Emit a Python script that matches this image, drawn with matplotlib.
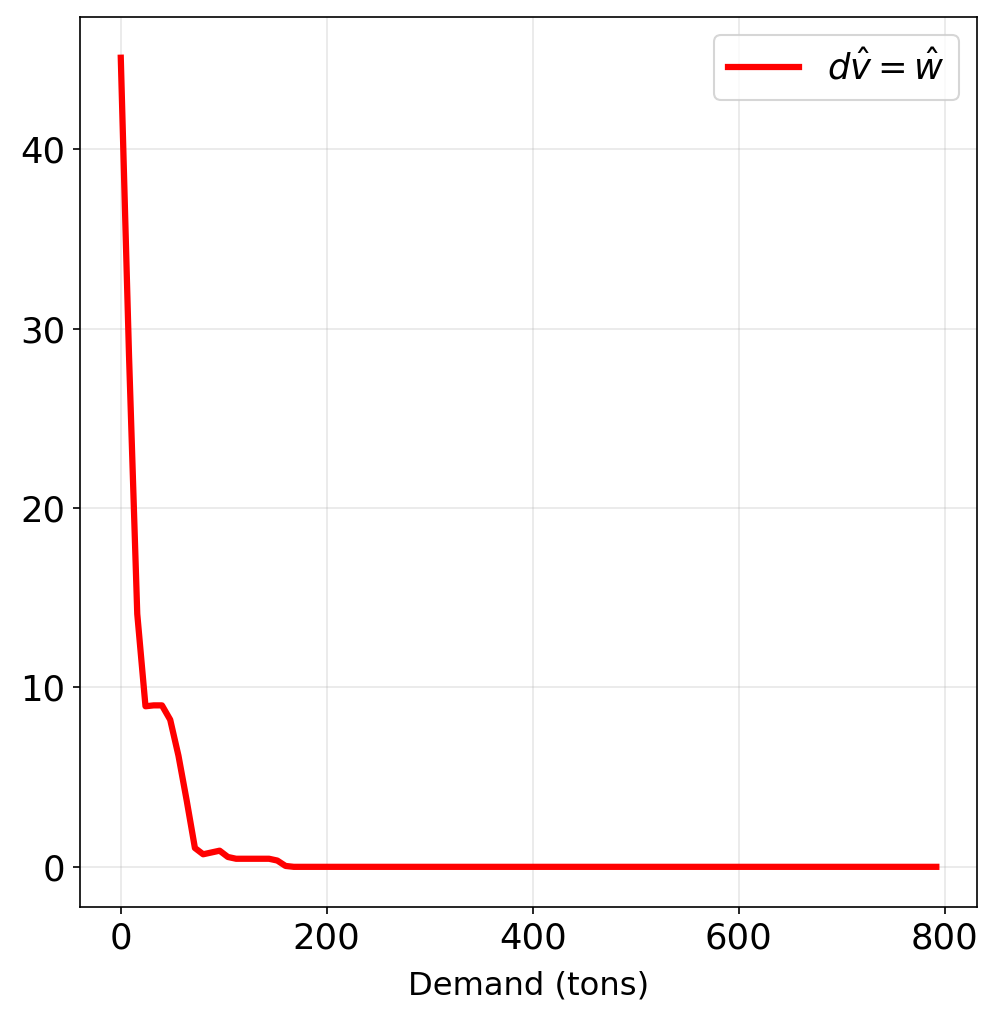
import numpy as np
import matplotlib
matplotlib.use("Agg")
import matplotlib.pyplot as plt

# demand grid (tons) and value
demand = [0, 8, 16, 24, 32, 40, 48, 56, 64, 72, 80, 88, 96, 104, 112,
          120, 128, 136, 144, 152, 160, 168, 792]
value = [45.1, 28.5, 14.1, 8.95, 9.0, 9.0, 8.2, 6.2, 3.7, 1.05, 0.7, 0.8,
         0.9, 0.55, 0.45, 0.45, 0.45, 0.45, 0.45, 0.35, 0.05, 0.0, 0.0]
xticks = [0, 200, 400, 600, 800]

fig = plt.figure(figsize=(995 / 150, 1016 / 150), dpi=150)
ax = fig.add_axes([0.0804, 0.107, 0.9016, 0.876])
ax.plot(demand, value, color='red', linewidth=3, label=r'$d\hat{v} = \hat{w}$')
ax.grid(True, alpha=0.3)
ax.set_xticks(xticks)
ax.set_xlabel('Demand (tons)', fontsize=15.5, labelpad=7)
ax.tick_params(labelsize=17)
ax.legend(fontsize=17, loc='upper right')
fig.savefig('out.png', dpi=150)
